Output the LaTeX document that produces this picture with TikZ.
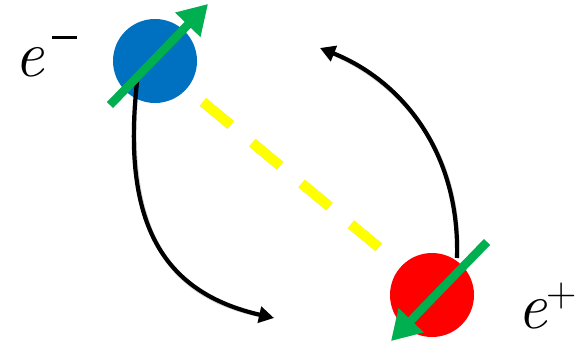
\documentclass[tikz,border=0pt]{standalone}
\usetikzlibrary{arrows.meta}
\definecolor{eblue}{HTML}{0070C0}
\definecolor{ered}{HTML}{FF0000}
\definecolor{sgreen}{HTML}{00B050}
\definecolor{pyellow}{HTML}{FFFF00}
\tikzset{
  particle/.style={circle, minimum size=84pt, inner sep=0pt, draw=none},
  spin/.style={line width=8.5pt, sgreen, -{Triangle[length=29pt,width=33pt]}},
  orbit/.style={line width=4.2pt, black, -{Triangle[length=15pt,width=16pt]}},
  link/.style={line width=10pt, pyellow, dash pattern=on 36pt off 28pt},
  shade/.style={black, opacity=0.18, shift={(2pt,-3pt)}},
  lab/.style={font=\fontsize{66}{66}\selectfont\itshape, inner sep=0pt}
}
\begin{document}
\begin{tikzpicture}[x=1pt,y=-1pt]
\useasboundingbox (0,0) rectangle (580,345);
% particles
\node[particle, fill=eblue] (el) at (155,61) {};
\node[particle, fill=ered] (po) at (432,295) {};
% coordinates
\coordinate (a1s) at (137,82);
\coordinate (a1e) at (274,318);
\coordinate (a2s) at (457,258);
\coordinate (a2e) at (320,48);
\coordinate (y1) at (203,102);
\coordinate (y2) at (382,250);
\coordinate (g1s) at (110,105);
\coordinate (g1e) at (208,4);
\coordinate (g2s) at (487,242);
\coordinate (g2e) at (391,341);
% shadows
\draw[link, shade] (y1) -- (y2);
\draw[orbit, shade] (a1s) .. controls (122,220) and (160,292) .. (a1e);
\draw[orbit, shade] (a2s) .. controls (460,150) and (400,80) .. (a2e);
% yellow dashed link
\draw[link] (y1) -- (y2);
% orbits
\draw[orbit] (a1s) .. controls (122,220) and (160,292) .. (a1e);
\draw[orbit] (a2s) .. controls (460,150) and (400,80) .. (a2e);
% spins
\draw[spin, shade] (g1s) -- (g1e);
\draw[spin, shade] (g2s) -- (g2e);
\draw[spin] (g1s) -- (g1e);
\draw[spin] (g2s) -- (g2e);
% labels
\node[lab, anchor=base west] (le) at (14,76) {e\hspace{8pt}\raisebox{37pt}{\rule{25pt}{2.8pt}}};
\node[lab, anchor=base west] (lp) at (517,328) {e\hspace{0pt}\raisebox{22pt}{\fontsize{42}{42}\selectfont\upshape +}};
\end{tikzpicture}
\end{document}
